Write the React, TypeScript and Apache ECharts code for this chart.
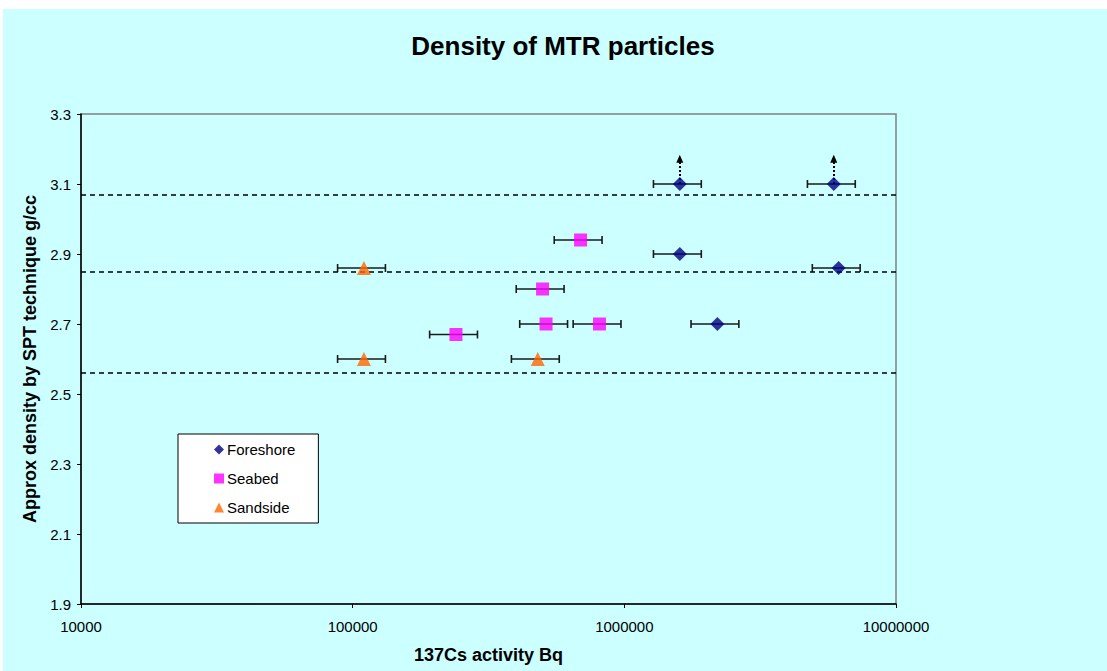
import React, { useEffect, useRef } from "react";
import * as echarts from "echarts";

const TITLE = "Density of MTR particles";
const X_NAME = "137Cs activity Bq";
const Y_NAME = "Approx density by SPT technique g/cc";
const Y_TICKS = [1.9, 2.1, 2.3, 2.5, 2.7, 2.9, 3.1, 3.3];
const SERIES_NAMES = ["Foreshore", "Seabed", "Sandside"];

const FORESHORE_X = [1600000, 5900000, 1600000, 6150000, 2200000];
const FORESHORE_Y = [3.1, 3.1, 2.9, 2.86, 2.7];
const SEABED_X = [690000, 500000, 515000, 810000, 240000];
const SEABED_Y = [2.94, 2.8, 2.7, 2.7, 2.67];
const SANDSIDE_X = [110000, 110000, 480000];
const SANDSIDE_Y = [2.86, 2.6, 2.6];

const ERR_FRACTION = 0.2;
const REF_LINES_Y = [3.072, 2.85, 2.56];
const ARROW_X = [1600000, 5900000];
const ARROW_FROM = [3.1, 3.1];
const ARROW_TO = [3.172, 3.172];

const FONT = "'Liberation Sans', Arial, sans-serif";

function pts(xs: number[], ys: number[]) {
  return xs.map((x, i) => [x, ys[i]]);
}
function errData(xs: number[], ys: number[]) {
  return xs.map((x, i) => [x * (1 - ERR_FRACTION), x * (1 + ERR_FRACTION), ys[i]]);
}

export default function App() {
  const ref = useRef<HTMLDivElement>(null);
  useEffect(() => {
    const chart = echarts.init(ref.current!, null, { renderer: "svg" });
    const allErr = [
      ...errData(FORESHORE_X, FORESHORE_Y),
      ...errData(SEABED_X, SEABED_Y),
      ...errData(SANDSIDE_X, SANDSIDE_Y),
    ];
    chart.setOption({
      animation: false,
      backgroundColor: "#CCFFFF",
      title: {
        text: TITLE,
        left: 555,
        textAlign: "center",
        top: 19,
        textStyle: { fontFamily: FONT, fontSize: 26, fontWeight: "bold", color: "#000" },
      },
      legend: {
        orient: "vertical",
        left: 175,
        top: 425,
        data: SERIES_NAMES,
        backgroundColor: "#fff",
        borderColor: "#000",
        borderWidth: 1,
        borderRadius: 0,
        padding: [8, 23, 8, 36],
        itemGap: 14,
        itemWidth: 10,
        itemHeight: 10,
        textStyle: { fontFamily: FONT, fontSize: 15, color: "#000", padding: [0, 0, 0, -2] },
      },
      grid: {
        left: 78,
        top: 105,
        width: 815,
        height: 490,
        show: true,
        borderColor: "#808080",
        borderWidth: 1.5,
        backgroundColor: "transparent",
      },
      xAxis: {
        type: "log",
        logBase: 10,
        min: 10000,
        max: 10000000,
        name: X_NAME,
        nameLocation: "middle",
        nameGap: 42,
        nameTextStyle: { fontFamily: FONT, fontSize: 18, fontWeight: "bold", color: "#000" },
        axisLine: { show: true, lineStyle: { color: "#000", width: 1.5 } },
        axisTick: { show: true, length: 4, lineStyle: { color: "#000" } },
        minorTick: { show: false },
        splitLine: { show: false },
        axisLabel: {
          fontFamily: FONT,
          fontSize: 15,
          color: "#000",
          margin: 15,
          formatter: (v: number) => String(Math.round(v)),
        },
      },
      yAxis: {
        type: "value",
        min: 1.9,
        max: 3.3,
        name: Y_NAME,
        nameLocation: "middle",
        nameGap: 42,
        nameTextStyle: { fontFamily: FONT, fontSize: 18, fontWeight: "bold", color: "#000" },
        axisLine: { show: true, lineStyle: { color: "#000", width: 1.5 } },
        axisTick: { show: true, length: 4, customValues: Y_TICKS, lineStyle: { color: "#000" } },
        splitLine: { show: false },
        axisLabel: {
          fontFamily: FONT,
          fontSize: 15,
          color: "#000",
          margin: 10,
          customValues: Y_TICKS,
          formatter: (v: number) => v.toFixed(1),
        },
      },
      series: [
        {
          type: "custom",
          name: "errors",
          coordinateSystem: "cartesian2d",
          encode: { x: [0, 1], y: 2 },
          z: 2,
          silent: true,
          data: allErr,
          renderItem: (params: any, api: any) => {
            const y = api.value(2);
            const p1 = api.coord([api.value(0), y]);
            const p2 = api.coord([api.value(1), y]);
            const h = 4;
            const style = { stroke: "#1a1a1a", lineWidth: 1.6 };
            return {
              type: "group",
              children: [
                { type: "line", shape: { x1: p1[0], y1: p1[1], x2: p2[0], y2: p2[1] }, style },
                { type: "line", shape: { x1: p1[0], y1: p1[1] - h, x2: p1[0], y2: p1[1] + h }, style },
                { type: "line", shape: { x1: p2[0], y1: p2[1] - h, x2: p2[0], y2: p2[1] + h }, style },
              ],
            };
          },
        },
        {
          type: "scatter",
          name: SERIES_NAMES[0],
          symbol: "diamond",
          symbolSize: 14,
          z: 5,
          itemStyle: { color: "#000080" },
          data: pts(FORESHORE_X, FORESHORE_Y),
          markLine: {
            silent: true,
            symbol: ["none", "triangle"],
            symbolSize: [7, 8],
            label: { show: false },
            lineStyle: { type: "dotted", color: "#000", width: 2 },
            data: ARROW_X.map((x, i) => [
              { coord: [x, ARROW_FROM[i]] },
              { coord: [x, ARROW_TO[i]] },
            ]),
          },
        },
        {
          type: "scatter",
          name: SERIES_NAMES[1],
          symbol: "rect",
          symbolSize: 13,
          z: 5,
          itemStyle: { color: "#FF00FF" },
          data: pts(SEABED_X, SEABED_Y),
          markLine: {
            silent: true,
            symbol: ["none", "none"],
            label: { show: false },
            lineStyle: { type: [5, 4], color: "#000", width: 1.5 },
            data: REF_LINES_Y.map((y) => ({ yAxis: y })),
          },
        },
        {
          type: "scatter",
          name: SERIES_NAMES[2],
          symbol: "triangle",
          symbolSize: 14,
          z: 5,
          itemStyle: { color: "#FF6600" },
          data: pts(SANDSIDE_X, SANDSIDE_Y),
        },
      ],
    });
    return () => chart.dispose();
  }, []);
  return (
    <div style={{ position: "absolute", left: 0, top: 0, width: 1107, height: 671, background: "#fff" }}>
      <div ref={ref} style={{ position: "absolute", left: 3, top: 9, width: 1104, height: 662 }} />
    </div>
  );
}
